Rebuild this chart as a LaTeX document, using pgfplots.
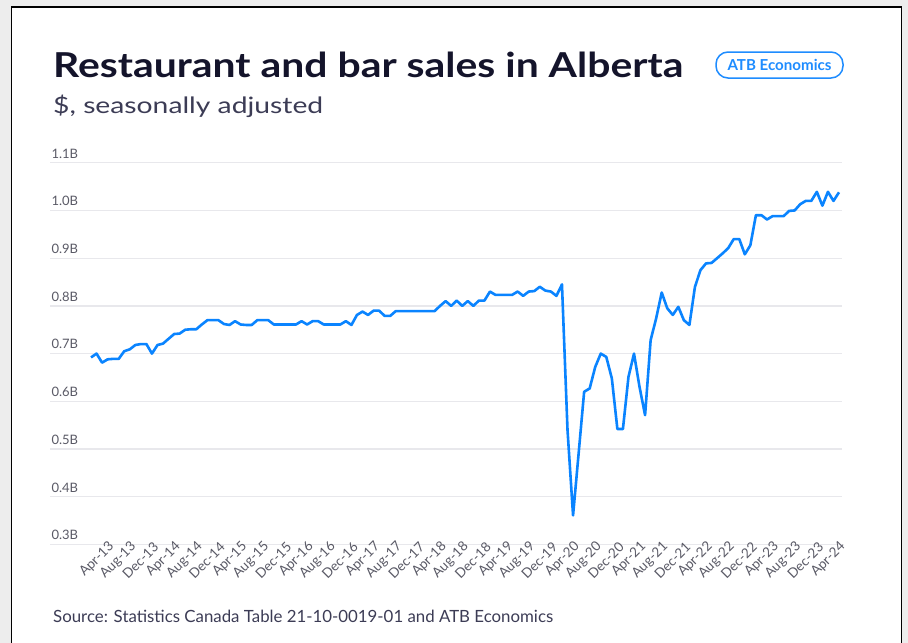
\documentclass[border=0pt]{standalone}
\usepackage{fontspec}
\setmainfont{Lato}
\usepackage{graphicx}
\usepackage{pgfplots}
\pgfplotsset{compat=1.18}
\definecolor{titlecol}{HTML}{14142B}
\definecolor{subcol}{HTML}{3C3C55}
\definecolor{tickcol}{HTML}{5A5A66}
\definecolor{linecol}{HTML}{0A84FF}
\definecolor{gridcol}{HTML}{E8E8EC}
\definecolor{badgecol}{HTML}{1E8CFF}
\definecolor{shadow}{HTML}{EDEDED}
\begin{document}
\begin{tikzpicture}
\path[use as bounding box] (0,0) rectangle (908bp,-643bp);
\fill[shadow] (0,0) rectangle (908bp,-643bp);
\fill[white] (11.5bp,-643bp) rectangle (901.5bp,-7bp);
\draw[black, line width=1.2bp] (11.5bp,-643bp) -- (11.5bp,-7bp) -- (901.5bp,-7bp) -- (901.5bp,-643bp);
\node[anchor=base west, inner sep=0, text=titlecol] at (53bp,-77.7bp) {\resizebox{630bp}{25.5bp}{\fontsize{35bp}{40bp}\selectfont\bfseries Restaurant and bar sales in Alberta}};
\node[anchor=base west, inner sep=0, text=subcol] at (53bp,-113.3bp) {\resizebox{270bp}{18.5bp}{\fontsize{23bp}{27bp}\selectfont \$, seasonally adjusted}};
\node[draw=badgecol, line width=1.5bp, rounded corners=12bp, minimum width=127bp, minimum height=26bp, inner sep=0, text=badgecol] at (779.5bp,-65bp) {\resizebox{104bp}{!}{\fontsize{13bp}{15bp}\selectfont\bfseries ATB Economics}};
\node[anchor=base west, inner sep=0, text=subcol] at (53bp,-622bp) {\resizebox{500bp}{!}{\fontsize{15bp}{18bp}\selectfont Source: Statistics Canada Table 21-10-0019-01 and ATB Economics}};
\begin{axis}[
  at={(50bp,-544.5bp)}, anchor=south west,
  scale only axis, width=792bp, height=381.8bp,
  xmin=-7.4, xmax=135.54, ymin=0.3, ymax=1.1,
  axis line style={draw=none},
  major tick length=0,
  ytick={0.3,0.4,0.5,0.6,0.7,0.8,0.9,1.0,1.1},
  yticklabels={0.3B,0.4B,0.5B,0.6B,0.7B,0.8B,0.9B,1.0B,1.1B},
  ymajorgrids, grid style={color=gridcol, line width=1.3bp},
  yticklabel style={anchor=south west, font=\fontsize{13bp}{15bp}\selectfont, text=tickcol, xshift=-2bp, yshift=1bp},
  xtick={3,7,...,135},
  xticklabels={Apr-13,Aug-13,Dec-13,Apr-14,Aug-14,Dec-14,Apr-15,Aug-15,Dec-15,Apr-16,Aug-16,Dec-16,Apr-17,Aug-17,Dec-17,Apr-18,Aug-18,Dec-18,Apr-19,Aug-19,Dec-19,Apr-20,Aug-20,Dec-20,Apr-21,Aug-21,Dec-21,Apr-22,Aug-22,Dec-22,Apr-23,Aug-23,Dec-23,Apr-24},
  xticklabel style={rotate=45, anchor=east, font=\fontsize{13.5bp}{15bp}\selectfont, text=tickcol, xshift=4bp, yshift=-3bp, inner sep=1bp},
  clip=false,
]
\addplot[color=linecol, line width=2.6bp, line join=round, mark=none] table[x=m, y=v] {
m v
0 0.692
1 0.700
2 0.681
3 0.688
4 0.689
5 0.689
6 0.705
7 0.709
8 0.718
9 0.720
10 0.720
11 0.700
12 0.718
13 0.721
14 0.731
15 0.741
16 0.742
17 0.750
18 0.751
19 0.751
20 0.761
21 0.770
22 0.770
23 0.770
24 0.762
25 0.760
26 0.768
27 0.761
28 0.760
29 0.760
30 0.770
31 0.770
32 0.770
33 0.761
34 0.761
35 0.761
36 0.761
37 0.761
38 0.768
39 0.761
40 0.768
41 0.768
42 0.761
43 0.761
44 0.761
45 0.761
46 0.768
47 0.760
48 0.781
49 0.788
50 0.781
51 0.790
52 0.790
53 0.779
54 0.779
55 0.789
56 0.789
57 0.789
58 0.789
59 0.789
60 0.789
61 0.789
62 0.789
63 0.800
64 0.810
65 0.800
66 0.811
67 0.800
68 0.810
69 0.800
70 0.811
71 0.811
72 0.830
73 0.823
74 0.823
75 0.823
76 0.823
77 0.830
78 0.821
79 0.830
80 0.831
81 0.840
82 0.832
83 0.830
84 0.821
85 0.845
86 0.540
87 0.361
88 0.490
89 0.620
90 0.627
91 0.672
92 0.700
93 0.693
94 0.648
95 0.542
96 0.542
97 0.651
98 0.700
99 0.630
100 0.571
101 0.728
102 0.774
103 0.828
104 0.795
105 0.781
106 0.798
107 0.770
108 0.760
109 0.840
110 0.875
111 0.889
112 0.890
113 0.900
114 0.910
115 0.921
116 0.940
117 0.940
118 0.908
119 0.927
120 0.990
121 0.990
122 0.981
123 0.988
124 0.988
125 0.988
126 0.999
127 1.000
128 1.013
129 1.020
130 1.020
131 1.039
132 1.010
133 1.039
134 1.020
135 1.038
};
\end{axis}
\end{tikzpicture}
\end{document}
